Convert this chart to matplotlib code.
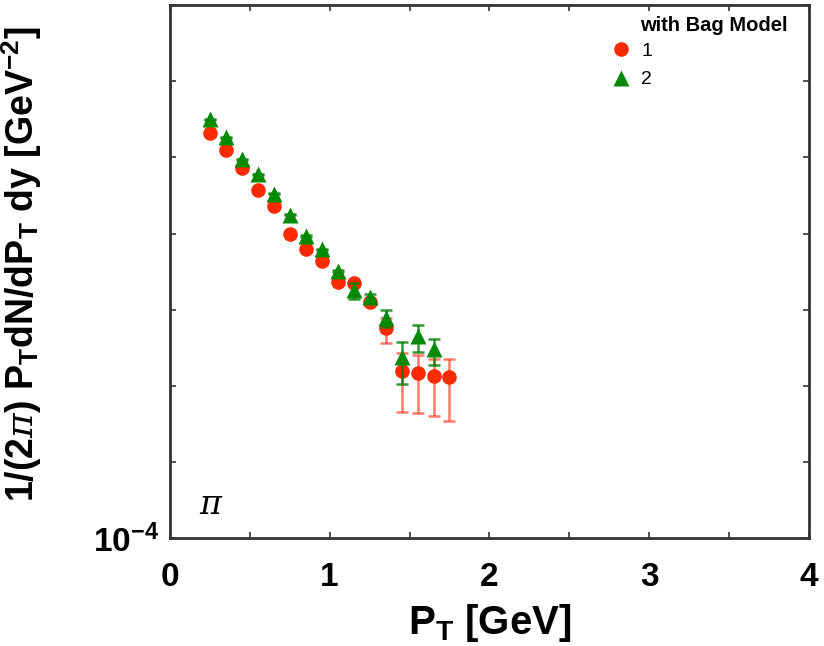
import numpy as np
import matplotlib
matplotlib.use("Agg")
import matplotlib.pyplot as plt
from matplotlib.ticker import FixedLocator, FuncFormatter, MultipleLocator, NullLocator

plt.rcParams['font.family'] = ['Liberation Sans', 'DejaVu Sans']
plt.rcParams['mathtext.fontset'] = 'custom'
plt.rcParams['mathtext.rm'] = 'Liberation Sans'
plt.rcParams['mathtext.bf'] = 'Liberation Sans:bold'
plt.rcParams['mathtext.it'] = 'DejaVu Serif:italic'
plt.rcParams['axes.unicode_minus'] = False

# pT bins [GeV]
pt = [0.25, 0.35, 0.45, 0.55, 0.65, 0.75, 0.85, 0.95,
      1.05, 1.15, 1.25, 1.35, 1.45, 1.55, 1.65, 1.75]

# series 1 (red circles)
y1 = [20.8, 12.6, 7.21, 3.74, 2.31, 0.99, 0.628, 0.441,
      0.233, 0.222, 0.127, 0.058, 0.0158, 0.0149, 0.01345, 0.01294]
e1 = [0.3, 0.2, 0.1, 0.06, 0.04, 0.02, 0.015, 0.012,
      0.008, 0.01, 0.012, 0.021, 0.0112, 0.0105, 0.0094, 0.0095]

# series 2 (green triangles)
pt2 = pt[:15]
y2 = [31.6, 18.5, 9.5, 6.04, 3.33, 1.77, 0.925, 0.618,
      0.324, 0.179, 0.148, 0.079, 0.0241, 0.0454, 0.0303]
e2 = [0.4, 0.25, 0.12, 0.08, 0.05, 0.03, 0.02, 0.015,
      0.012, 0.042, 0.015, 0.02, 0.0135, 0.0175, 0.0113]

red = '#ff2a00'
green = '#058a05'

fig = plt.figure(figsize=(8.24, 6.46), dpi=100)
ax = fig.add_axes([0.206, 0.167, 0.776, 0.825])

c1 = ax.errorbar(pt, y1, yerr=e1, fmt='o', color=red, ms=10.5, mec='none',
                 ecolor=(1, 0.2, 0.1, 0.65), elinewidth=1.8, capsize=4, capthick=1.8,
                 zorder=3)
c2 = ax.errorbar(pt2, y2, yerr=e2, fmt='^', color=green, ms=11, mec='none',
                 ecolor=(0.0, 0.5, 0.0, 0.8), elinewidth=1.8, capsize=4, capthick=1.8,
                 zorder=4)

ax.set_yscale('log')
ax.set_xlim(0, 4)
ax.set_ylim(1e-4, 1e3)

ax.yaxis.set_major_locator(FixedLocator([10.0 ** k for k in range(-4, 4)]))
ax.yaxis.set_minor_locator(NullLocator())
ax.yaxis.set_major_formatter(FuncFormatter(
    lambda v, p: r'$\mathbf{10^{-4}}$' if abs(v - 1e-4) < 1e-9 else ''))
ax.xaxis.set_major_locator(MultipleLocator(1))
ax.xaxis.set_minor_locator(MultipleLocator(0.5))

ax.tick_params(which='both', direction='in', top=True, right=True,
               length=4, width=1.2, color='#333333')
ax.tick_params(axis='x', labelsize=24, pad=17)
ax.tick_params(axis='y', labelsize=24, pad=8)
for lab in ax.get_xticklabels():
    lab.set_fontweight('bold')
for sp in ax.spines.values():
    sp.set_linewidth(2)
    sp.set_color('#333333')

ax.set_xlabel(r'P$_\mathbf{T}$ [GeV]', fontsize=29, fontweight='bold', labelpad=7)
ax.set_ylabel(r'1/(2$\pi$) P$_\mathbf{T}$dN/dP$_\mathbf{T}$ dy [GeV$^\mathbf{-2}$]',
              fontsize=27, fontweight='bold')
ax.yaxis.set_label_coords(-0.197, 0.515)

ax.text(0.045, 0.045, r'$\pi$', transform=ax.transAxes, fontsize=24)

ax.text(0.735, 0.9625, 'with Bag Model', transform=ax.transAxes, fontsize=14.5,
        fontweight='bold', ha='left', va='center')
ax.legend([c1[0], c2[0]], ['1', '2'], loc='upper left',
          bbox_to_anchor=(0.69, 0.93), frameon=False,
          fontsize=14, handletextpad=0.55, labelspacing=0.55, handlelength=1.0,
          borderaxespad=0, borderpad=0)

fig.savefig('out.png', dpi=100)
